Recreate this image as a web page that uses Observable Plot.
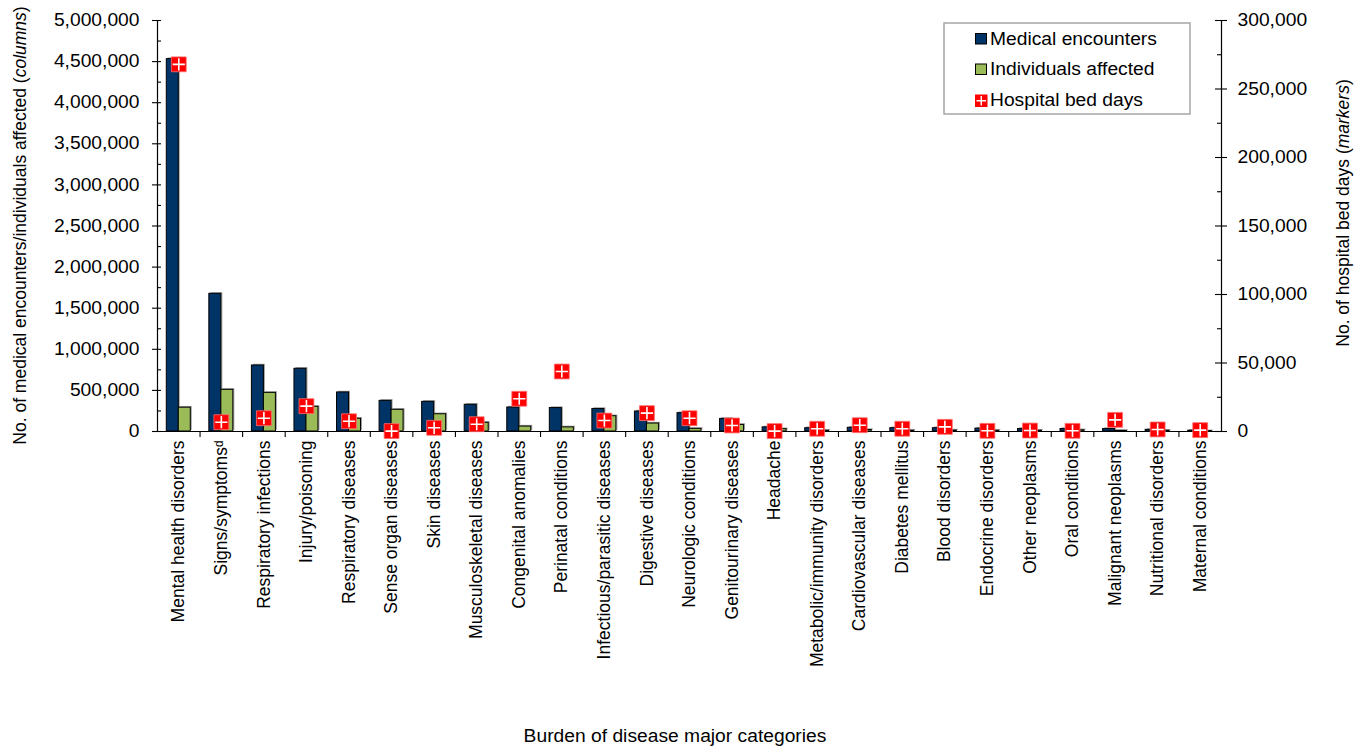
<!DOCTYPE html>
<html>
<head>
<meta charset="utf-8">
<script src="https://cdn.jsdelivr.net/npm/d3@7"></script>
<script src="https://cdn.jsdelivr.net/npm/@observablehq/plot@0.6"></script>
<style>
html, body { margin: 0; padding: 0; background: #fff; }
#chart svg { display: block; }
</style>
</head>
<body>
<div id="chart"></div>
<script>
const categories = [
  "Mental health disorders", "Signs/symptoms\u1D48", "Respiratory infections", "Injury/poisoning",
  "Respiratory diseases", "Sense organ diseases", "Skin diseases", "Musculoskeletal diseases",
  "Congenital anomalies", "Perinatal conditions", "Infectious/parasitic diseases", "Digestive diseases",
  "Neurologic conditions", "Genitourinary diseases", "Headache", "Metabolic/immunity disorders",
  "Cardiovascular diseases", "Diabetes mellitus", "Blood disorders", "Endocrine disorders",
  "Other neoplasms", "Oral conditions", "Malignant neoplasms", "Nutritional disorders", "Maternal conditions"
];
const medicalEncounters = [
  4530000, 1675000, 803000, 763000, 475000, 373000, 361000, 325000,
  292000, 285000, 274000, 243000, 223000, 153000, 50000, 40000,
  45000, 40000, 40000, 35000, 30000, 30000, 30000, 20000, 10000
];
const individualsAffected = [
  290000, 507000, 470000, 300000, 155000, 264000, 210000, 106000,
  60000, 50000, 186000, 97000, 32000, 80000, 28000, 10000,
  18000, 10000, 12000, 10000, 10000, 15000, 8000, 10000, 5000
];
const hospitalBedDays = [
  268000, 6800, 9700, 18500, 7500, 300, 2700, 5300,
  23900, 43800, 8000, 13400, 9700, 4400, 300, 2000,
  4600, 2000, 3400, 500, 700, 500, 8500, 1500, 1000
];
const leftTicks = [0, 500000, 1000000, 1500000, 2000000, 2500000, 3000000, 3500000, 4000000, 4500000, 5000000];
const leftMinorTicks = [250000, 750000, 1250000, 1750000, 2250000, 2750000, 3250000, 3750000, 4250000, 4750000];
const rightTicks = [0, 50000, 100000, 150000, 200000, 250000, 300000];
const rightMinorTicks = [25000, 75000, 125000, 175000, 225000, 275000];
const legendLabels = ["Medical encounters", "Individuals affected", "Hospital bed days"];

const leftMax = 5000000, rightMax = 300000;
const k = leftMax / rightMax;

const rows = categories.map((c, i) => ({
  category: c,
  encounters: medicalEncounters[i],
  individuals: individualsAffected[i],
  bedDays: hospitalBedDays[i]
}));

const W = 1368, H = 748, mL = 157, mR = 147, mT = 20, mB = 317;
const plotW = W - mL - mR, plotH = H - mT - mB;
const bw = plotW / categories.length;
const barW = 12;
const BLUE = "#003366", GREEN = "#9bbb59", RED = "#ff0000";
const FONT = "Arial, 'Liberation Sans', sans-serif";
const FS = 17.5;
const fmt = d3.format(",");

const crossSymbol = {
  draw(ctx, size) {
    const h = Math.sqrt(size) / 2;
    ctx.moveTo(-h, 0); ctx.lineTo(h, 0);
    ctx.moveTo(0, -h); ctx.lineTo(0, h);
  }
};
const mR_ = 8.4;

const chart = Plot.plot({
  width: W, height: H,
  marginLeft: mL, marginRight: mR, marginTop: mT, marginBottom: mB,
  style: { fontFamily: FONT, fontSize: FS + "px", color: "#000", background: "#fff", overflow: "visible" },
  x: { type: "band", domain: categories, padding: 0, round: false, label: null },
  y: { domain: [0, leftMax], label: null },
  marks: [
    // shadows
    Plot.barY(rows, { x: "category", y: "encounters", fill: "#a0a0a0", insetLeft: bw / 2 - barW, insetRight: bw / 2, dx: 1.5, dy: -1.2 }),
    Plot.barY(rows, { x: "category", y: "individuals", fill: "#a0a0a0", insetLeft: bw / 2, insetRight: bw / 2 - barW, dx: 1.5, dy: -1.2 }),
    // bars
    Plot.barY(rows, { x: "category", y: "encounters", fill: BLUE, stroke: "#000", strokeWidth: 1, insetLeft: bw / 2 - barW, insetRight: bw / 2 }),
    Plot.barY(rows, { x: "category", y: "individuals", fill: GREEN, stroke: "#000", strokeWidth: 1, insetLeft: bw / 2, insetRight: bw / 2 - barW }),
    // axis lines
    Plot.ruleY([0], { stroke: "#000", strokeWidth: 1.2 }),
    Plot.ruleX([categories[0]], { x: d => d, dx: -bw / 2, stroke: "#000", strokeWidth: 1.2 }),
    Plot.ruleX([categories[categories.length - 1]], { x: d => d, dx: bw / 2, stroke: "#000", strokeWidth: 1.2 }),
    // left ticks
    Plot.tickY(leftTicks, { y: d => d, insetLeft: -5, insetRight: plotW - 4, stroke: "#000", strokeWidth: 1.1 }),
    Plot.tickY(leftMinorTicks, { y: d => d, insetLeft: 0, insetRight: plotW - 4, stroke: "#000", strokeWidth: 1.1 }),
    // right ticks
    Plot.tickY(rightTicks, { y: d => d * k, insetLeft: plotW - 6, insetRight: -6, stroke: "#000", strokeWidth: 1.1 }),
    Plot.tickY(rightMinorTicks, { y: d => d * k, insetLeft: plotW - 4, insetRight: 0, stroke: "#000", strokeWidth: 1.1 }),
    // x boundary ticks
    Plot.tickX(categories.slice(1), { x: d => d, dx: -bw / 2, insetTop: plotH, insetBottom: -6, stroke: "#000", strokeWidth: 1.1 }),
    // axis labels
    Plot.axisY({ anchor: "left", ticks: leftTicks, tickFormat: fmt, tickSize: 0, tickPadding: 18, label: null, fontSize: FS }),
    Plot.axisY({ anchor: "right", ticks: rightTicks.map(v => v * k), tickFormat: d => fmt(Math.round(d / k)), tickSize: 0, tickPadding: 16, label: null, fontSize: FS }),
    Plot.axisX({ anchor: "bottom", tickSize: 0, tickPadding: 9, tickRotate: -90, label: null, fontSize: FS }),
    // markers
    Plot.dot(rows, { x: "category", y: d => d.bedDays * k, symbol: "square", r: mR_, fill: RED, stroke: "#ff7070", strokeWidth: 0.8 }),
    Plot.dot(rows, { x: "category", y: d => d.bedDays * k, symbol: crossSymbol, r: mR_ * 0.82, fill: "none", stroke: "#fff", strokeWidth: 1.6 })
  ]
});

document.getElementById("chart").appendChild(chart);
const svg = d3.select(chart);

// Axis titles
const leftTitle = svg.append("text")
  .attr("transform", `translate(26,${mT + plotH / 2}) rotate(-90)`)
  .attr("text-anchor", "middle").attr("font-size", FS).attr("font-family", FONT).attr("fill", "#000");
leftTitle.append("tspan").text("No. of medical encounters/individuals affected (");
leftTitle.append("tspan").attr("font-style", "italic").text("columns");
leftTitle.append("tspan").text(")");

const rightTitle = svg.append("text")
  .attr("transform", `translate(1349,213) rotate(-90)`)
  .attr("text-anchor", "middle").attr("font-size", FS).attr("font-family", FONT).attr("fill", "#000");
rightTitle.append("tspan").text("No. of hospital bed days (");
rightTitle.append("tspan").attr("font-style", "italic").text("markers");
rightTitle.append("tspan").text(")");

svg.append("text")
  .attr("x", 675).attr("y", 741.5)
  .attr("text-anchor", "middle").attr("font-size", FS).attr("font-family", FONT).attr("fill", "#000")
  .attr("class", "stretch")
  .text("Burden of disease major categories");

// Legend
const lg = svg.append("g").attr("text-anchor", "start");
lg.append("rect").attr("x", 944).attr("y", 23).attr("width", 246).attr("height", 91)
  .attr("fill", "#fff").attr("stroke", "#a6a6a6").attr("stroke-width", 1.5);
const rowY = [44.5, 75, 106];
lg.append("rect").attr("x", 975.5).attr("y", rowY[0] - 11).attr("width", 11).attr("height", 10.5)
  .attr("fill", BLUE).attr("stroke", "#000").attr("stroke-width", 1);
lg.append("rect").attr("x", 975.5).attr("y", rowY[1] - 11).attr("width", 11).attr("height", 10.5)
  .attr("fill", GREEN).attr("stroke", "#000").attr("stroke-width", 1);
lg.append("rect").attr("x", 975).attr("y", rowY[2] - 11.5).attr("width", 12.5).attr("height", 12.5)
  .attr("fill", RED);
lg.append("path").attr("d", `M976.5,${rowY[2] - 5.25}H986M981.25,${rowY[2] - 10}V${rowY[2] - 0.5}`)
  .attr("stroke", "#fff").attr("stroke-width", 1.4).attr("fill", "none");
legendLabels.forEach((t, i) => {
  lg.append("text").attr("x", 990).attr("y", rowY[i]).attr("font-size", FS).attr("font-family", FONT)
    .attr("text-anchor", "start").attr("fill", "#000").attr("class", "stretch").text(t);
});

// widen horizontal texts to match reference metrics
const stretchEls = [
  ...chart.querySelectorAll('g[aria-label="y-axis tick label"] text'),
  ...chart.querySelectorAll("text.stretch")
];
stretchEls.forEach(el => {
  const len = el.getComputedTextLength();
  if (len > 0) {
    el.setAttribute("textLength", (len * 1.1).toFixed(1));
    el.setAttribute("lengthAdjust", "spacingAndGlyphs");
  }
});
</script>
</body>
</html>
